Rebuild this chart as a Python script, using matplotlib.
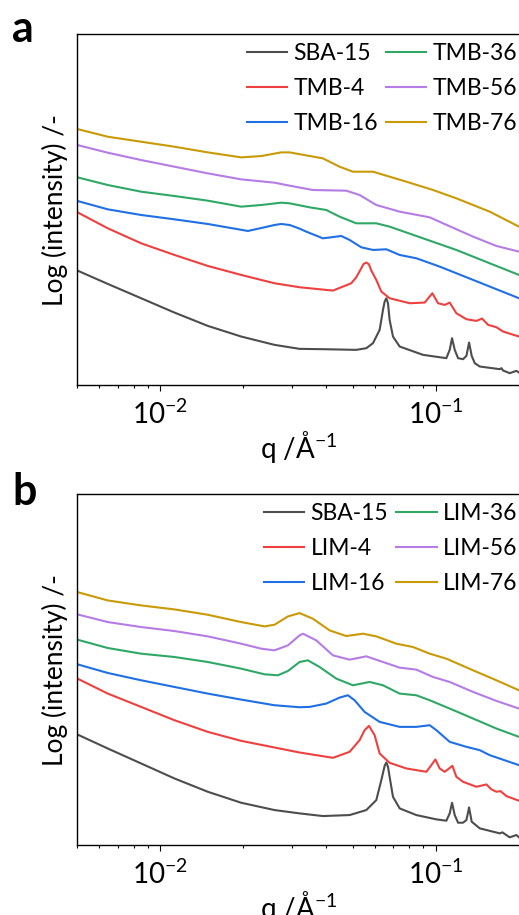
import matplotlib
matplotlib.use("Agg")
import matplotlib.pyplot as plt
from matplotlib.ticker import NullFormatter, LogLocator

plt.rcParams['font.family'] = ['Lato', 'DejaVu Sans']
plt.rcParams['mathtext.fontset'] = 'custom'
plt.rcParams['mathtext.rm'] = 'Lato'
plt.rcParams['mathtext.it'] = 'Lato:italic'
plt.rcParams['mathtext.bf'] = 'Lato:bold'

# ---- panel a (TMB) ----
q_a_sba = [0.005, 0.00644, 0.00851, 0.01124, 0.01485, 0.01963, 0.02594, 0.03198, 0.03886, 0.05135,
           0.05585, 0.05904, 0.06243, 0.06419, 0.06510, 0.06601, 0.06694, 0.06785, 0.06978, 0.07379,
           0.08968, 0.1090, 0.1121, 0.1143, 0.1169, 0.1202, 0.1253, 0.1289, 0.1318, 0.1347,
           0.1382, 0.1441, 0.1703, 0.1727, 0.1751, 0.1851, 0.1957, 0.2]
i_a_sba = [345, 305, 262, 219, 179, 147, 122, 110, 109, 107,
           112, 127, 167, 227, 252, 262, 247, 197, 147, 117,
           92, 82, 107, 142, 107, 82, 79, 89, 129, 89,
           67, 57, 49, 52, 45, 37, 44, 39]

q_a_4 = [0.005, 0.00644, 0.00851, 0.01124, 0.01485, 0.01963, 0.02594, 0.03198, 0.04225, 0.04925,
         0.05135, 0.05354, 0.05459, 0.05585, 0.05710, 0.05823, 0.06071, 0.06331, 0.06785, 0.08023,
         0.09095, 0.09698, 0.1017, 0.1075, 0.1121, 0.1185, 0.1289, 0.1401, 0.1469, 0.1545,
         0.1656, 0.1751, 0.2]
i_a_4 = [520, 472, 427, 392, 359, 332, 307, 295, 285, 307,
         325, 352, 365, 369, 364, 345, 317, 282, 262, 247,
         249, 277, 247, 242, 249, 217, 199, 194, 201, 182,
         175, 162, 147]

q_a_16 = [0.005, 0.00644, 0.00851, 0.01124, 0.01485, 0.02076, 0.02210, 0.02385, 0.02594, 0.02744,
          0.02942, 0.03198, 0.03381, 0.03886, 0.04167, 0.04531, 0.04857, 0.05354, 0.05904, 0.06601,
          0.07379, 0.08482, 0.1031, 0.1363, 0.2]
i_a_16 = [554, 529, 512, 499, 485, 464, 469, 475, 482, 485,
          482, 471, 462, 442, 445, 449, 437, 415, 407, 409,
          392, 382, 357, 317, 262]

q_a_36 = [0.005, 0.00644, 0.00851, 0.01124, 0.01485, 0.01963, 0.02320, 0.02744, 0.02942, 0.03477,
          0.03996, 0.04467, 0.05135, 0.06071, 0.06785, 0.08968, 0.1185, 0.1566, 0.2]
i_a_36 = [625, 602, 582, 569, 555, 537, 542, 549, 547, 535,
          527, 507, 487, 487, 477, 442, 407, 367, 332]

q_a_56 = [0.005, 0.00644, 0.00851, 0.01124, 0.01485, 0.01963, 0.02594, 0.02942, 0.03575, 0.04723,
          0.05280, 0.06071, 0.07379, 0.09484, 0.1060, 0.1363, 0.1656, 0.2]
i_a_56 = [722, 699, 677, 657, 637, 619, 609, 600, 587, 585,
          572, 542, 522, 505, 487, 447, 419, 402]

q_a_76 = [0.005, 0.00644, 0.00851, 0.01124, 0.01485, 0.01963, 0.02320, 0.02744, 0.02942, 0.03886,
          0.04467, 0.04994, 0.05904, 0.06785, 0.07803, 0.09752, 0.1185, 0.1566, 0.2]
i_a_76 = [770, 747, 732, 717, 700, 685, 689, 700, 700, 682,
          657, 642, 642, 627, 612, 587, 562, 522, 477]

# ---- panel b (LIM) ----
q_b_sba = [0.005, 0.00644, 0.00851, 0.01124, 0.01485, 0.01963, 0.02594, 0.03198, 0.03886, 0.04857,
           0.05585, 0.06071, 0.06331, 0.06510, 0.06601, 0.06694, 0.06785, 0.06978, 0.07379, 0.08482,
           0.1003, 0.1090, 0.1121, 0.1143, 0.1169, 0.1202, 0.1253, 0.1289, 0.1318, 0.1347,
           0.1441, 0.1703, 0.1741, 0.1851, 0.1957, 0.2]
i_b_sba = [332, 290, 245, 200, 160, 127, 105, 95, 87, 90,
           105, 135, 195, 238, 248, 235, 205, 145, 110, 90,
           77, 73, 95, 127, 90, 67, 67, 75, 113, 70,
           50, 35, 38, 23, 30, 23]

q_b_4 = [0.005, 0.00644, 0.00851, 0.01124, 0.01485, 0.01963, 0.02594, 0.03198, 0.04225, 0.04857,
         0.05280, 0.05505, 0.05710, 0.05987, 0.06243, 0.06785, 0.07803, 0.09224, 0.09616, 0.09945,
         0.1031, 0.1075, 0.1115, 0.1146, 0.1185, 0.1253, 0.1401, 0.1524, 0.1589, 0.1656,
         0.1713, 0.1800, 0.2]
i_b_4 = [500, 455, 415, 375, 340, 313, 293, 278, 262, 280,
         315, 345, 358, 330, 275, 247, 230, 220, 240, 257,
         230, 220, 230, 238, 205, 190, 175, 182, 167, 160,
         162, 147, 133]

q_b_16 = [0.005, 0.00644, 0.00851, 0.01124, 0.01485, 0.01963, 0.02594, 0.03198, 0.03477, 0.03996,
          0.04467, 0.04790, 0.05064, 0.05505, 0.06243, 0.07379, 0.08482, 0.09484, 0.1003, 0.1121,
          0.1289, 0.1441, 0.1566, 0.2]
i_b_16 = [543, 517, 495, 475, 455, 437, 420, 414, 415, 425,
          443, 450, 435, 400, 370, 355, 355, 360, 345, 310,
          295, 285, 270, 240]

q_b_36 = [0.005, 0.00644, 0.00851, 0.01124, 0.01485, 0.01963, 0.02385, 0.02668, 0.02902, 0.03198,
          0.03428, 0.03780, 0.04345, 0.04994, 0.05742, 0.06419, 0.07379, 0.08482, 0.09484, 0.1121,
          0.1363, 0.1656, 0.2]
i_b_36 = [617, 592, 575, 565, 550, 530, 513, 510, 523, 550,
          555, 535, 500, 480, 490, 480, 455, 450, 435, 410,
          380, 350, 325]

q_b_56 = [0.005, 0.00644, 0.00851, 0.01124, 0.01485, 0.01963, 0.02320, 0.02594, 0.02902, 0.03198,
          0.03288, 0.03676, 0.04225, 0.04857, 0.05585, 0.06419, 0.07379, 0.08482, 0.09752, 0.1121,
          0.1363, 0.1656, 0.2]
i_b_56 = [693, 670, 655, 643, 627, 605, 590, 585, 600, 630,
          635, 615, 570, 557, 567, 550, 533, 527, 505, 490,
          460, 433, 410]

q_b_76 = [0.005, 0.00644, 0.00851, 0.01124, 0.01485, 0.01963, 0.02385, 0.02594, 0.02902, 0.03198,
          0.03575, 0.04109, 0.04723, 0.05428, 0.06071, 0.07175, 0.08249, 0.09484, 0.1090, 0.1363,
          0.1656, 0.2]
i_b_76 = [760, 735, 720, 708, 692, 670, 657, 662, 687, 697,
          680, 645, 628, 635, 627, 605, 595, 575, 560, 525,
          495, 465]

labels_a = ["SBA-15", "TMB-4", "TMB-16", "TMB-36", "TMB-56", "TMB-76"]
labels_b = ["SBA-15", "LIM-4", "LIM-16", "LIM-36", "LIM-56", "LIM-76"]
colors = ["#4d4d4d", "#ef4040", "#1f6fe5", "#2fa866", "#b47ce4", "#c99a06"]
xticks = [0.01, 0.1]
xticklabels = [r"$\mathregular{10^{-2}}$", r"$\mathregular{10^{-1}}$"]

series_a = [(q_a_sba, i_a_sba), (q_a_4, i_a_4), (q_a_16, i_a_16),
            (q_a_36, i_a_36), (q_a_56, i_a_56), (q_a_76, i_a_76)]
series_b = [(q_b_sba, i_b_sba), (q_b_4, i_b_4), (q_b_16, i_b_16),
            (q_b_36, i_b_36), (q_b_56, i_b_56), (q_b_76, i_b_76)]

fig = plt.figure(figsize=(5.19, 9.15), dpi=100)


def panel(rect, series, labels, letter, letter_y):
    ax = fig.add_axes(rect)
    for (q, y), lab, c in zip(series, labels, colors):
        ax.plot(q, y, color=c, lw=1.5, label=lab, solid_joinstyle="round")
    ax.set_xscale("log")
    ax.set_xlim(0.005, 0.2)
    ax.set_ylim(0, 1054)
    ax.set_yticks([])
    ax.set_xticks(xticks)
    ax.set_xticklabels(xticklabels)
    ax.xaxis.set_minor_locator(LogLocator(base=10, subs=range(2, 10)))
    ax.xaxis.set_minor_formatter(NullFormatter())
    ax.tick_params(axis="x", which="major", length=4.5, width=0.8, labelsize=20, pad=6)
    ax.tick_params(axis="x", which="minor", length=2.3, width=0.8)
    ax.spines["right"].set_visible(False)
    for s in ["top", "bottom", "left"]:
        ax.spines[s].set_linewidth(1.0)
    ax.set_xlabel(r"q /Å$^{-1}$", fontsize=20, labelpad=0)
    ax.set_ylabel("Log (intensity) /-", fontsize=19, labelpad=7)
    ax.legend(ncol=2, loc="upper right", bbox_to_anchor=(0.997, 0.975),
              frameon=False, fontsize=16.5,
              handlelength=1.75, handletextpad=0.29, columnspacing=0.36,
              labelspacing=0.6, borderaxespad=0, borderpad=0)
    fig.text(0.024, letter_y, letter, fontsize=31, fontweight="bold", va="baseline")
    return ax


panel([0.1493, 0.5787, 0.8507, 0.3836], series_a, labels_a, "a", 0.954)
panel([0.1493, 0.0765, 0.8507, 0.3833], series_b, labels_b, "b", 0.448)

fig.savefig("out.png", dpi=100)
